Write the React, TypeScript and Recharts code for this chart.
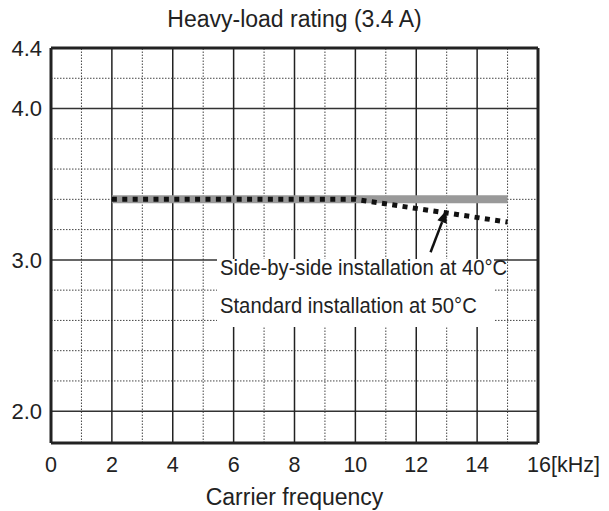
import React from "react";
import { LineChart, Line, XAxis, YAxis, ReferenceLine } from "recharts";

const frequencies = [2, 10, 15];
const sideBySide40 = [3.4, 3.4, 3.4];
const standard50 = [3.4, 3.4, 3.25];

const xTicks = [0, 2, 4, 6, 8, 10, 12, 14, 16];
const yTicks = [2.0, 3.0, 4.0, 4.4];
const solidX = [2, 4, 6, 8, 10, 12, 14];
const dottedX = [1, 3, 5, 7, 9, 11, 13, 15];
const solidY = [2.0, 3.0, 4.0];
const dottedY = [2.2, 2.4, 2.6, 2.8, 3.2, 3.4, 3.6, 3.8, 4.2];

const arrowFrom = { x: 12.47, y: 3.05 };
const arrowTo = { x: 13.0, y: 3.33 };

const FONT = '"Liberation Sans", Arial, sans-serif';
const INK = "#222";

const data = frequencies.map((f, i) => ({
  f,
  side: sideBySide40[i],
  std: standard50[i],
}));

function XTick(props: any) {
  const { x, y, payload } = props;
  const isLast = payload.value === 16;
  return (
    <text
      x={isLast ? x - 11 : x}
      y={y + 21}
      textAnchor={isLast ? "start" : "middle"}
      fontSize={21.5}
      fontFamily={FONT}
      fill={INK}
    >
      {isLast ? "16[kHz]" : payload.value}
    </text>
  );
}

function Arrow(props: any) {
  const { x1, y1, x2, y2 } = props;
  const ang = Math.atan2(y2 - y1, x2 - x1);
  const len = 13;
  const w = 5;
  const bx = x2 - len * Math.cos(ang);
  const by = y2 - len * Math.sin(ang);
  const px = -Math.sin(ang) * w;
  const py = Math.cos(ang) * w;
  return (
    <g>
      <line x1={x1} y1={y1} x2={bx} y2={by} stroke="#111" strokeWidth={2.5} />
      <polygon
        points={`${x2},${y2} ${bx + px},${by + py} ${bx - px},${by - py}`}
        fill="#111"
      />
    </g>
  );
}

export default function App() {
  return (
    <div
      style={{
        position: "absolute",
        left: 0,
        top: 0,
        width: 609,
        height: 511,
        background: "#fff",
        fontFamily: FONT,
        color: INK,
      }}
    >
      <LineChart
        width={609}
        height={511}
        data={data}
        margin={{ top: 48, right: 71, bottom: 0, left: 0 }}
      >
        <XAxis
          dataKey="f"
          type="number"
          domain={[0, 16]}
          ticks={xTicks}
          tickLine={false}
          axisLine={false}
          height={68}
          tick={<XTick />}
          interval={0}
        />
        <YAxis
          type="number"
          domain={[1.79, 4.4]}
          ticks={yTicks}
          tickFormatter={(v: number) => v.toFixed(1)}
          tickLine={false}
          axisLine={false}
          width={51}
          tickMargin={3}
          tick={{ fontSize: 22, fill: INK, fontFamily: FONT }}
          allowDataOverflow
          interval={0}
        />
        {dottedY.map((v) => (
          <ReferenceLine key={`dy${v}`} y={v} stroke="#444" strokeWidth={1} strokeDasharray="1.5 1.5" />
        ))}
        {dottedX.map((v) => (
          <ReferenceLine key={`dx${v}`} x={v} stroke="#444" strokeWidth={1} strokeDasharray="1.5 1.5" />
        ))}
        {solidY.map((v) => (
          <ReferenceLine key={`sy${v}`} y={v} stroke="#333" strokeWidth={1.5} />
        ))}
        {solidX.map((v) => (
          <ReferenceLine key={`sx${v}`} x={v} stroke="#222" strokeWidth={1.5} />
        ))}
        <ReferenceLine x={0} stroke="#222" strokeWidth={3} />
        <ReferenceLine x={16} stroke="#222" strokeWidth={3} />
        <ReferenceLine y={4.4} stroke="#222" strokeWidth={3} />
        <ReferenceLine y={1.79} stroke="#222" strokeWidth={3} />
        <Line
          dataKey="side"
          stroke="#999"
          strokeWidth={8}
          dot={false}
          isAnimationActive={false}
          type="linear"
        />
        <Line
          dataKey="std"
          stroke="#111"
          strokeWidth={5}
          strokeDasharray="5 5.4"
          dot={false}
          isAnimationActive={false}
          type="linear"
        />
        <ReferenceLine segment={[arrowFrom, arrowTo]} shape={<Arrow />} />
      </LineChart>

      <div
        style={{
          position: "absolute",
          left: 0,
          width: 589,
          top: 7,
          textAlign: "center",
          fontSize: 23,
          lineHeight: "24px",
        }}
      >
        Heavy-load rating (3.4 A)
      </div>
      <div
        style={{
          position: "absolute",
          left: 0,
          width: 589,
          top: 485,
          textAlign: "center",
          fontSize: 23,
          lineHeight: "24px",
        }}
      >
        Carrier frequency
      </div>
      <div
        style={{
          position: "absolute",
          left: 217,
          top: 259,
          width: 277,
          height: 68,
          background: "#fff",
          fontSize: 22,
          whiteSpace: "nowrap",
        }}
      >
        <div
          style={{
            position: "absolute",
            left: 3,
            top: -2,
            lineHeight: "22px",
            transform: "scaleX(0.92)",
            transformOrigin: "left center",
          }}
        >
          Side-by-side installation at 40°C
        </div>
        <div
          style={{
            position: "absolute",
            left: 3,
            top: 36,
            lineHeight: "22px",
            transform: "scaleX(0.92)",
            transformOrigin: "left center",
          }}
        >
          Standard installation at 50°C
        </div>
      </div>
    </div>
  );
}
